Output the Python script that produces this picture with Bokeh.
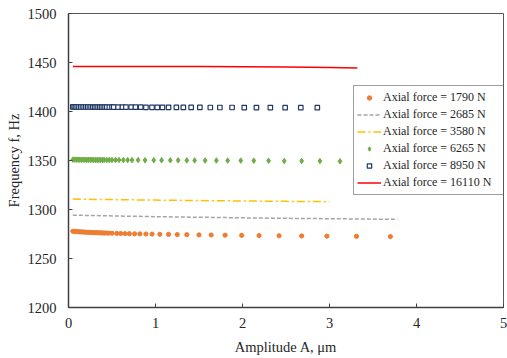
from bokeh.plotting import figure
from bokeh.models import Range1d, FixedTicker, Legend, LegendItem
from bokeh.embed import file_html
from bokeh.resources import INLINE

# ---- data ----
amp_1790 = [0.05, 0.07, 0.09, 0.11, 0.13, 0.15, 0.17, 0.19, 0.21, 0.23, 0.25, 0.27, 0.29, 0.31,
            0.33, 0.35, 0.37, 0.39, 0.41, 0.43, 0.46, 0.50, 0.555, 0.60, 0.65, 0.70, 0.76, 0.82,
            0.89, 0.96, 1.05, 1.15, 1.25, 1.36, 1.50, 1.64, 1.80, 1.99, 2.19, 2.42, 2.68, 2.97,
            3.31, 3.70]
freq_1790 = [1277.8, 1277.6, 1277.5, 1277.3, 1277.2, 1277.1, 1277.0, 1276.9, 1276.8, 1276.7,
             1276.6, 1276.5, 1276.4, 1276.4, 1276.3, 1276.2, 1276.2, 1276.1, 1276.0, 1276.0,
             1275.9, 1275.8, 1275.6, 1275.5, 1275.4, 1275.3, 1275.2, 1275.1, 1275.0, 1274.9,
             1274.7, 1274.6, 1274.4, 1274.3, 1274.1, 1274.0, 1273.8, 1273.6, 1273.4, 1273.2,
             1273.0, 1272.8, 1272.6, 1272.4]

amp_2685 = [0.05, 0.3, 0.6, 1.0, 1.5, 2.0, 2.5, 3.0, 3.5, 3.78]
freq_2685 = [1294.2, 1293.8, 1293.3, 1292.7, 1292.1, 1291.5, 1291.0, 1290.6, 1290.2, 1290.0]

amp_3580 = [0.05, 0.3, 0.6, 1.0, 1.5, 2.0, 2.5, 3.0]
freq_3580 = [1310.6, 1310.3, 1310.0, 1309.6, 1309.1, 1308.7, 1308.3, 1308.0]

amp_6265 = [0.05, 0.07, 0.09, 0.11, 0.13, 0.15, 0.17, 0.19, 0.21, 0.23, 0.25, 0.27, 0.29, 0.31,
            0.33, 0.35, 0.37, 0.39, 0.41, 0.44, 0.47, 0.50, 0.54, 0.58, 0.63, 0.68, 0.73, 0.80,
            0.88, 0.98, 1.07, 1.17, 1.26, 1.36, 1.45, 1.57, 1.70, 1.83, 1.98, 2.13, 2.30, 2.48,
            2.68, 2.89, 3.12]
freq_6265 = [1350.9, 1350.9, 1350.9, 1350.8, 1350.8, 1350.8, 1350.8, 1350.7, 1350.7, 1350.7,
             1350.7, 1350.7, 1350.6, 1350.6, 1350.6, 1350.6, 1350.6, 1350.6, 1350.6, 1350.5,
             1350.5, 1350.5, 1350.5, 1350.5, 1350.4, 1350.4, 1350.4, 1350.4, 1350.3, 1350.3,
             1350.3, 1350.2, 1350.2, 1350.1, 1350.1, 1350.0, 1350.0, 1349.9, 1349.9, 1349.8,
             1349.7, 1349.6, 1349.5, 1349.4, 1349.2]

amp_8950 = [0.05, 0.065, 0.08, 0.10, 0.12, 0.14, 0.16, 0.18, 0.20, 0.22, 0.24, 0.26, 0.28, 0.30,
            0.32, 0.34, 0.36, 0.38, 0.40, 0.42, 0.44, 0.47, 0.50, 0.52, 0.57, 0.62, 0.66, 0.72,
            0.77, 0.83, 0.89, 0.96, 1.02, 1.08, 1.15, 1.24, 1.32, 1.41, 1.51, 1.63, 1.74, 1.88,
            2.02, 2.16, 2.32, 2.49, 2.67, 2.86]
freq_8950 = [1404.7, 1404.7, 1404.7, 1404.7, 1404.6, 1404.6, 1404.6, 1404.6, 1404.6, 1404.6,
             1404.6, 1404.6, 1404.5, 1404.5, 1404.5, 1404.5, 1404.5, 1404.5, 1404.5, 1404.5,
             1404.5, 1404.5, 1404.5, 1404.4, 1404.4, 1404.4, 1404.4, 1404.4, 1404.4, 1404.4,
             1404.3, 1404.3, 1404.3, 1404.3, 1404.3, 1404.2, 1404.2, 1404.2, 1404.2, 1404.1,
             1404.1, 1404.1, 1404.0, 1404.0, 1404.0, 1403.9, 1403.9, 1403.9]

amp_16110 = [0.05, 0.5, 1.0, 1.5, 2.0, 2.5, 3.0, 3.32]
freq_16110 = [1446.0, 1446.0, 1445.9, 1445.8, 1445.6, 1445.3, 1444.8, 1444.4]

labels = ["Axial force = 1790 N", "Axial force = 2685 N", "Axial force = 3580 N",
          "Axial force = 6265 N", "Axial force = 8950 N", "Axial force = 16110 N"]
x_ticks = [0, 1, 2, 3, 4, 5]
y_ticks = [1200, 1250, 1300, 1350, 1400, 1450, 1500]

FONT = "Liberation Serif"
TXT = "#262626"

p = figure(width=507, height=358, output_backend="svg", toolbar_location=None,
           x_range=Range1d(0, 5), y_range=Range1d(1200, 1500),
           min_border_left=68, min_border_right=4, min_border_top=13, min_border_bottom=51)
p.grid.visible = False
p.outline_line_color = "#595959"
p.outline_line_width = 1
p.background_fill_color = "white"
p.border_fill_color = "white"

r1 = p.scatter(amp_1790, freq_1790, marker="circle", size=4.2, fill_color="#ED7D31",
               line_color="#ED7D31")
r2 = p.line(amp_2685, freq_2685, line_color="#A5A5A5", line_width=1.5, line_dash="4 2")
r3 = p.line(amp_3580, freq_3580, line_color="#FFC000", line_width=1.5, line_dash="8 3 2 3")
r4 = p.scatter(amp_6265, freq_6265, marker="diamond", size=5.5, fill_color="#70AD47",
               line_color="#70AD47")
r5 = p.scatter(amp_8950, freq_8950, marker="square", size=4.5, fill_color="white",
               line_color="#203864", line_width=1.2)
r6 = p.line(amp_16110, freq_16110, line_color="#FF0000", line_width=1.5)

for ax in (p.xaxis[0], p.yaxis[0]):
    ax.axis_line_color = "#404040"
    ax.axis_line_width = 1.5
    ax.major_tick_line_color = "#404040"
    ax.major_tick_in = 4
    ax.major_tick_out = 0
    ax.minor_tick_line_color = None
    ax.major_label_text_font = FONT
    ax.major_label_text_font_size = "14.5px"
    ax.major_label_text_color = TXT
    ax.axis_label_text_font = FONT
    ax.axis_label_text_font_size = "14.5px"
    ax.axis_label_text_font_style = "normal"
    ax.axis_label_text_color = TXT

p.xaxis.ticker = FixedTicker(ticks=x_ticks)
p.yaxis.ticker = FixedTicker(ticks=y_ticks)
p.xaxis.axis_label = "Amplitude A, μm"
p.yaxis.axis_label = "Frequency f, Hz"
p.xaxis.major_label_standoff = 10
p.yaxis.major_label_standoff = 12
p.xaxis.axis_label_standoff = 8
p.yaxis.axis_label_standoff = 3

legend = Legend(items=[LegendItem(label=l, renderers=[r]) for l, r in
                       zip(labels, [r1, r2, r3, r4, r5, r6])],
                location=(285, 112), orientation="vertical")
legend.label_text_font = FONT
legend.label_text_font_size = "12px"
legend.label_text_color = TXT
legend.glyph_width = 24
legend.glyph_height = 11
legend.label_height = 17
legend.label_width = 118
legend.label_standoff = 2
legend.spacing = 0
legend.padding = 3
legend.margin = 0
legend.border_line_color = "#404040"
legend.border_line_width = 1
legend.background_fill_alpha = 1
p.add_layout(legend)

open("out.html", "w").write(file_html(p, INLINE))
